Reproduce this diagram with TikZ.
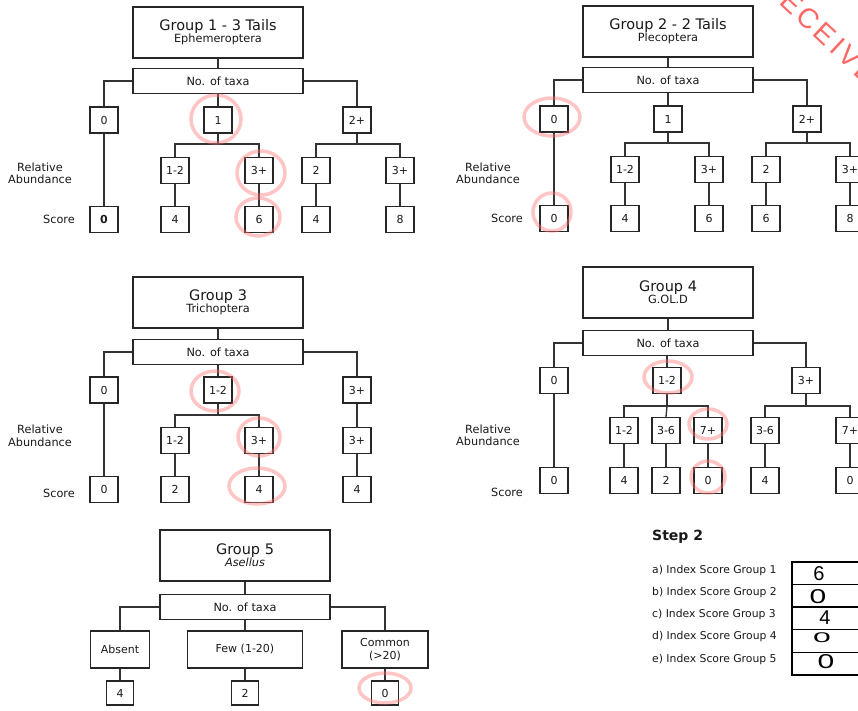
\documentclass[tikz,border=0pt]{standalone}
\usepackage{fontspec}
\setmainfont{DejaVu Sans}
\newfontfamily\stampfont[LetterSpace=13]{Liberation Sans}
\newfontfamily\handfont{Liberation Sans}
\newcommand{\tfont}{\fontsize{14.5}{17}\selectfont}
\newcommand{\sfontx}{\fontsize{11.3}{13}\selectfont}
\begin{document}
\begin{tikzpicture}[x=1pt,y=-1pt,
  bx/.style={draw=black!85, line width=1.35pt, minimum width=28pt, minimum height=26pt, inner sep=0pt, font=\fontsize{11}{12}\selectfont, text=black!90},
  titlebox/.style={draw=black!85, line width=1.35pt, minimum width=170pt, minimum height=51pt, inner sep=0pt, align=center, text=black!90},
  taxabox/.style={draw=black!85, line width=1.35pt, minimum width=170pt, minimum height=25pt, inner sep=0pt, font=\fontsize{11.3}{12}\selectfont, text=black!90},
  ln/.style={draw=black!80, line width=1.35pt},
  lbl/.style={font=\fontsize{11.3}{12.5}\selectfont, text=black!90, inner sep=0pt, align=center},
  redring/.style={draw=red!55, line width=3.5pt, opacity=0.42},
  step2txt/.style={font=\fontsize{10.8}{12}\selectfont, text=black!90, inner sep=0pt, anchor=west},
  hand/.style={font=\handfont\fontsize{20}{20}\selectfont, text=black, inner sep=0pt}
]
\useasboundingbox (0,0) rectangle (858,710);
\fill[white] (0,0) rectangle (858,710);
\clip (0,0) rectangle (858,710);

% ---------------- Group 1 ----------------
\begin{scope}
\node[titlebox] (g1t) at (218,32.5) {\tfont Group 1 - 3 Tails\\\sfontx Ephemeroptera};
\node[taxabox] (g1x) at (218,81) {No. of taxa};
\node[bx] (g1a) at (104,120) {0};
\node[bx] (g1b) at (218,120) {1};
\node[bx] (g1c) at (357,120) {2+};
\node[bx] (g1b1) at (175,170.5) {1-2};
\node[bx] (g1b2) at (259,170.5) {3+};
\node[bx] (g1c1) at (316,170.5) {2};
\node[bx] (g1c2) at (400,170.5) {3+};
\node[bx] (g1s0) at (104,219.5) {\bfseries 0};
\node[bx] (g1s1) at (175,219.5) {4};
\node[bx] (g1s2) at (259,219.5) {6};
\node[bx] (g1s3) at (316,219.5) {4};
\node[bx] (g1s4) at (400,219.5) {8};
\coordinate (g1bj) at (218,144);
\coordinate (g1cj) at (357,144);
\draw[ln] (g1t.south) -- (g1x.north);
\draw[ln] (g1x.west) -| (g1a.north);
\draw[ln] (g1x.south) -- (g1b.north);
\draw[ln] (g1x.east) -| (g1c.north);
\draw[ln] (g1a.south) -- (g1s0.north);
\draw[ln] (g1b.south) -- (g1bj) -| (g1b1.north);
\draw[ln] (g1bj) -| (g1b2.north);
\draw[ln] (g1c.south) -- (g1cj) -| (g1c1.north);
\draw[ln] (g1cj) -| (g1c2.north);
\draw[ln] (g1b1.south) -- (g1s1.north);
\draw[ln] (g1b2.south) -- (g1s2.north);
\draw[ln] (g1c1.south) -- (g1s3.north);
\draw[ln] (g1c2.south) -- (g1s4.north);
\node[lbl] (g1ra) at (40,173.5) {Relative\\Abundance};
\node[lbl, anchor=east] (g1sc) at (75,219) {Score};
\end{scope}

% ---------------- Group 2 ----------------
\begin{scope}[shift={(450,-1)}]
\node[titlebox] (g2t) at (218,32.5) {\tfont Group 2 - 2 Tails\\\sfontx Plecoptera};
\node[taxabox] (g2x) at (218,81) {No. of taxa};
\node[bx] (g2a) at (104,120) {0};
\node[bx] (g2b) at (218,120) {1};
\node[bx] (g2c) at (357,120) {2+};
\node[bx] (g2b1) at (175,170.5) {1-2};
\node[bx] (g2b2) at (259,170.5) {3+};
\node[bx] (g2c1) at (316,170.5) {2};
\node[bx] (g2c2) at (400,170.5) {3+};
\node[bx] (g2s0) at (104,219.5) {0};
\node[bx] (g2s1) at (175,219.5) {4};
\node[bx] (g2s2) at (259,219.5) {6};
\node[bx] (g2s3) at (316,219.5) {6};
\node[bx] (g2s4) at (400,219.5) {8};
\coordinate (g2bj) at (218,144);
\coordinate (g2cj) at (357,144);
\draw[ln] (g2t.south) -- (g2x.north);
\draw[ln] (g2x.west) -| (g2a.north);
\draw[ln] (g2x.south) -- (g2b.north);
\draw[ln] (g2x.east) -| (g2c.north);
\draw[ln] (g2a.south) -- (g2s0.north);
\draw[ln] (g2b.south) -- (g2bj) -| (g2b1.north);
\draw[ln] (g2bj) -| (g2b2.north);
\draw[ln] (g2c.south) -- (g2cj) -| (g2c1.north);
\draw[ln] (g2cj) -| (g2c2.north);
\draw[ln] (g2b1.south) -- (g2s1.north);
\draw[ln] (g2b2.south) -- (g2s2.north);
\draw[ln] (g2c1.south) -- (g2s3.north);
\draw[ln] (g2c2.south) -- (g2s4.north);
\node[lbl] (g2ra) at (38,174.5) {Relative\\Abundance};
\node[lbl, anchor=east] (g2sc) at (73,219) {Score};
\end{scope}

% ---------------- Group 3 ----------------
\begin{scope}[shift={(0,270)}]
\node[titlebox] (g3t) at (218,32.5) {\tfont Group 3\\\sfontx Trichoptera};
\node[taxabox] (g3x) at (218,82) {No. of taxa};
\node[bx] (g3a) at (104,120) {0};
\node[bx] (g3b) at (218,120) {1-2};
\node[bx] (g3c) at (357,120) {3+};
\node[bx] (g3b1) at (175,170.5) {1-2};
\node[bx] (g3b2) at (259,170.5) {3+};
\node[bx] (g3c1) at (357,170.5) {3+};
\node[bx] (g3s0) at (104,219.5) {0};
\node[bx] (g3s1) at (175,219.5) {2};
\node[bx] (g3s2) at (259,219.5) {4};
\node[bx] (g3s3) at (357,219.5) {4};
\coordinate (g3bj) at (218,145);
\draw[ln] (g3t.south) -- (g3x.north);
\draw[ln] (g3x.west) -| (g3a.north);
\draw[ln] (g3x.south) -- (g3b.north);
\draw[ln] (g3x.east) -| (g3c.north);
\draw[ln] (g3a.south) -- (g3s0.north);
\draw[ln] (g3b.south) -- (g3bj) -| (g3b1.north);
\draw[ln] (g3bj) -| (g3b2.north);
\draw[ln] (g3c.south) -- (g3c1.north);
\draw[ln] (g3b1.south) -- (g3s1.north);
\draw[ln] (g3b2.south) -- (g3s2.north);
\draw[ln] (g3c1.south) -- (g3s3.north);
\node[lbl] (g3ra) at (40,166) {Relative\\Abundance};
\node[lbl, anchor=east] (g3sc) at (75,223) {Score};
\end{scope}

% ---------------- Group 4 ----------------
\begin{scope}[shift={(450,261)}]
\node[titlebox] (g4t) at (218,31.5) {\tfont Group 4\\\sfontx G.OL.D};
\node[taxabox] (g4x) at (218,82) {No. of taxa};
\node[bx] (g4a) at (104,119.5) {0};
\node[bx] (g4b) at (217,119.5) {1-2};
\node[bx] (g4c) at (356,119.5) {3+};
\node[bx] (g4b1) at (174,169.5) {1-2};
\node[bx] (g4b2) at (216,169.5) {3-6};
\node[bx] (g4b3) at (258,169.5) {7+};
\node[bx] (g4c1) at (315,169.5) {3-6};
\node[bx] (g4c2) at (400,169.5) {7+};
\node[bx] (g4s0) at (104,219.5) {0};
\node[bx] (g4s1) at (174,219.5) {4};
\node[bx] (g4s2) at (216,219.5) {2};
\node[bx] (g4s3) at (258,219.5) {0};
\node[bx] (g4s4) at (315,219.5) {4};
\node[bx] (g4s5) at (400,219.5) {0};
\coordinate (g4bj) at (217,145);
\coordinate (g4cj) at (356,145);
\draw[ln] (g4t.south) -- (g4x.north);
\draw[ln] (g4x.west) -| (g4a.north);
\draw[ln] (g4x.south -| g4b.north) -- (g4b.north);
\draw[ln] (g4x.east) -| (g4c.north);
\draw[ln] (g4a.south) -- (g4s0.north);
\draw[ln] (g4b.south) -- (g4bj) -| (g4b1.north);
\draw[ln] (g4bj) -- (g4b2.north);
\draw[ln] (g4bj) -| (g4b3.north);
\draw[ln] (g4c.south) -- (g4cj) -| (g4c1.north);
\draw[ln] (g4cj) -| (g4c2.north);
\draw[ln] (g4b1.south) -- (g4s1.north);
\draw[ln] (g4b2.south) -- (g4s2.north);
\draw[ln] (g4b3.south) -- (g4s3.north);
\draw[ln] (g4c1.south) -- (g4s4.north);
\draw[ln] (g4c2.south) -- (g4s5.north);
\node[lbl] (g4ra) at (38,174.5) {Relative\\Abundance};
\node[lbl, anchor=east] (g4sc) at (73,231) {Score};
\end{scope}

% ---------------- Group 5 ----------------
\node[titlebox] (g5t) at (245,555.5) {\tfont Group 5\\\sfontx\itshape Asellus};
\node[taxabox] (g5x) at (245,607) {No. of taxa};
\node[bx, minimum width=59pt, minimum height=37pt] (g5a) at (120,649.5) {Absent};
\node[bx, minimum width=115pt, minimum height=37pt] (g5b) at (245,649.5) {Few (1-20)};
\node[bx, minimum width=86pt, minimum height=37pt, align=center, font=\fontsize{11}{13}\selectfont] (g5c) at (385,649.5) {Common\\(>20)};
\node[bx, minimum width=27pt, minimum height=24pt] (g5s0) at (120,693) {4};
\node[bx, minimum width=27pt, minimum height=24pt] (g5s1) at (245,693) {2};
\node[bx, minimum width=27pt, minimum height=24pt] (g5s2) at (385,693) {0};
\draw[ln] (g5t.south) -- (g5x.north);
\draw[ln] (g5x.west) -| (g5a.north);
\draw[ln] (g5x.south) -- (g5b.north);
\draw[ln] (g5x.east) -| (g5c.north);
\draw[ln] (g5a.south) -- (g5s0.north);
\draw[ln] (g5b.south) -- (g5s1.north);
\draw[ln] (g5c.south) -- (g5s2.north);

% ---------------- Step 2 ----------------
\node[inner sep=0pt, anchor=west, font=\fontsize{14}{16}\selectfont\bfseries, text=black!90] (st) at (652,537) {Step 2};
\node[step2txt] (sa) at (652,571) {a) Index Score Group 1};
\node[step2txt] (sb) at (652,593) {b) Index Score Group 2};
\node[step2txt] (sc) at (652,615) {c) Index Score Group 3};
\node[step2txt] (sd) at (652,637) {d) Index Score Group 4};
\node[step2txt] (se) at (652,660) {e) Index Score Group 5};
\draw[black, line width=1.6pt] (792,562) rectangle (880,675);
\draw[black, line width=1.6pt] (792,584.5) -- (880,584.5) (792,607) -- (880,607) (792,629.5) -- (880,629.5) (792,652.5) -- (880,652.5);
\draw[black, line width=2.2pt] (792,562) -- (792,675);
\node[hand] (ha) at (819,574) {6};
\node[hand, xscale=1.5] (hb) at (818,597) {0};
\node[hand] (hc) at (825,618) {4};
\node[hand, xscale=1.6, yscale=0.7] (hd) at (822,638) {0};
\node[hand, xscale=1.5] (he) at (826,662) {0};

% ---------------- red rings ----------------
\draw[redring] (216,119) ellipse [x radius=25, y radius=24];
\draw[redring] (261,173) ellipse [x radius=24, y radius=22];
\draw[redring] (258,217) ellipse [x radius=22, y radius=19];
\draw[redring] (552,117) ellipse [x radius=28, y radius=19];
\draw[redring] (552,212) ellipse [x radius=19, y radius=19];
\draw[redring] (215,391) ellipse [x radius=24, y radius=20];
\draw[redring] (259,437) ellipse [x radius=21, y radius=19];
\draw[redring] (257,486) ellipse [x radius=28, y radius=18];
\draw[redring] (668,377) ellipse [x radius=24, y radius=16];
\draw[redring] (708,424) ellipse [x radius=19, y radius=15];
\draw[redring] (708,477) ellipse [x radius=17, y radius=16];
\draw[redring] (385,688) ellipse [x radius=26, y radius=15];

% ---------------- stamp ----------------
\node[rotate=-43, anchor=west, text=red!60, font=\stampfont\fontsize{28}{30}\selectfont, inner sep=0pt] (stamp) at (767,-20) {RECEIVED};
\end{tikzpicture}
\end{document}
